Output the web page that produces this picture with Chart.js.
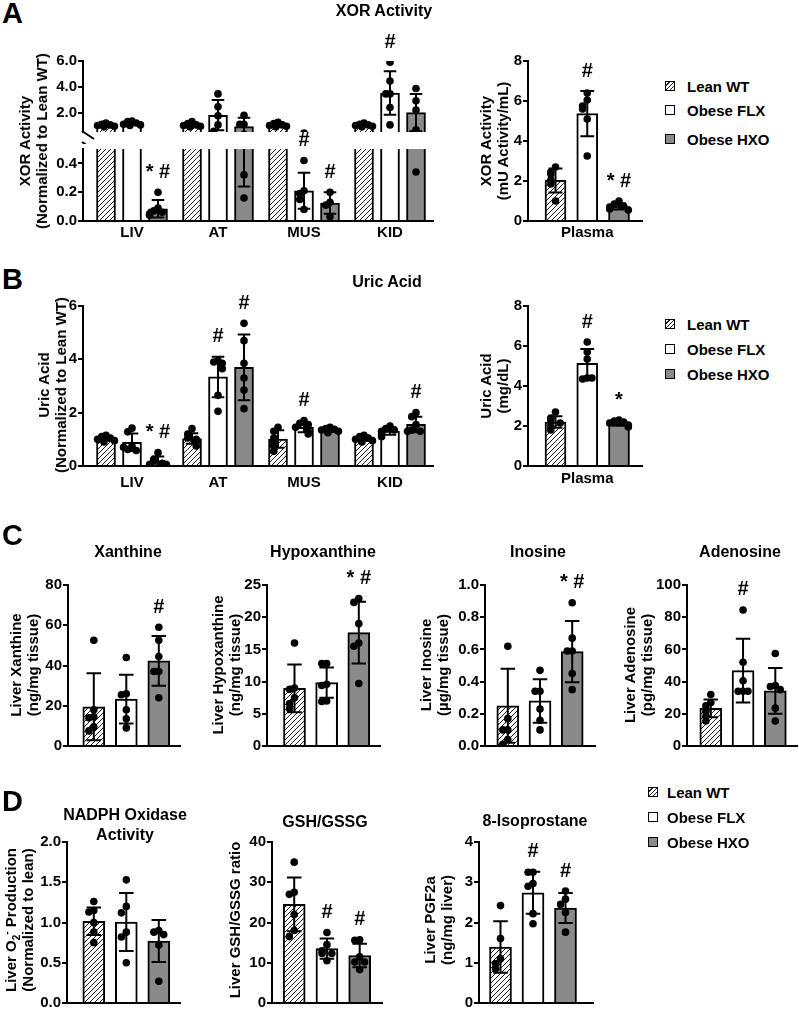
<!DOCTYPE html>
<html>
<head>
<meta charset="utf-8">
<script src="https://cdn.jsdelivr.net/npm/chart.js@4.4.1/dist/chart.umd.min.js"></script>
<style>
  body { margin: 0; background: #fff; width: 799px; height: 1009px; position: relative; overflow: hidden;
         font-family: "Liberation Sans", Arial, sans-serif; font-weight: bold; color: #000; }
  canvas { position: absolute; }
  .t { position: absolute; white-space: nowrap; line-height: 1; font-size: 16px; text-align: center; transform: translate(-50%, -50%); }
  .t2 { position: absolute; white-space: nowrap; line-height: 20px; font-size: 16px; text-align: center; transform: translate(-50%, -50%); }
  .yt { position: absolute; white-space: nowrap; line-height: 17px; font-size: 15px; text-align: center; transform: translate(-50%, -50%) rotate(-90deg); }
  .L { position: absolute; font-size: 29px; line-height: 1; transform: translateY(-50%); }
  .lg { position: absolute; font-size: 15px; line-height: 1; white-space: nowrap; transform: translateY(-50%); }
  .sw { position: absolute; width: 8px; height: 8px; border: 1.5px solid #000; transform: translateY(-50%); }
  sub, sup { font-size: 10px; line-height: 0; }
</style>
</head>
<body>
<script>
// groups and categories
const groups = ['Lean WT', 'Obese FLX', 'Obese HXO'];
const tissues = ['LIV', 'AT', 'MUS', 'KID'];
const plasma = ['Plasma'];

// A: XOR activity in tissues (normalized), rows = Lean, FLX, HXO; cols = tissues
const xorTisMean = [[1.05, 1.05, 1.05, 1.05], [1.18, 1.8, 0.21, 3.52], [0.085, 0.92, 0.125, 2.0]];
const xorTisSd = [[0.1, 0.12, 0.12, 0.12], [0.12, 1.17, 0.125, 1.68], [0.06, 0.68, 0.075, 1.45]];
const xorTisPts = [
  [[1.2, 1.1, 1.05, 1.0, 0.95, 0.9], [1.3, 1.15, 1.05, 1.0, 0.95, 0.9], [1.25, 1.15, 1.05, 1.0, 0.95, 0.9], [1.2, 1.1, 1.05, 1.0, 0.95, 0.9]],
  [[1.35, 1.3, 1.2, 1.1, 1.05, 1.0], [3.45, 2.45, 1.75, 1.05, 0.55], [0.42, 0.21, 0.19, 0.15, 0.08], [5.9, 4.45, 3.45, 3.45, 2.4, 1.05]],
  [[0.2, 0.09, 0.07, 0.06, 0.05, 0.04], [1.8, 1.1, 1.1, 0.32, 0.16], [0.2, 0.13, 0.11, 0.03], [3.87, 2.92, 2.2, 0.67, 0.34]]
];
const xorTisTicksHi = [2, 4, 6];
const xorTisTicksLo = [0, 0.2, 0.4];
const xorTisMarksHi = [[1, 3, '#']];
const xorTisMarksLo = [[2, 0, '* #'], [1, 2, '#'], [2, 2, '#']];

// A: XOR activity in plasma
const xorPlMean = [[2.03], [5.37], [0.72]];
const xorPlSd = [[0.6], [1.13], [0.15]];
const xorPlPts = [[[2.7, 2.45, 2.35, 2.05, 1.85, 1.0]], [[6.4, 6.05, 5.75, 5.6, 5.1, 3.25]], [[1.0, 0.85, 0.75, 0.7, 0.6, 0.55]]];
const xorPlTicks = [0, 2, 4, 6, 8];
const xorPlMarks = [[1, 0, '#'], [2, 0, '* #']];

// B: uric acid in tissues
const uaTisMean = [[1.03, 1.03, 1.01, 1.03], [0.89, 3.34, 1.45, 1.31], [0.19, 3.7, 1.35, 1.56]];
const uaTisSd = [[0.08, 0.2, 0.33, 0.08], [0.33, 0.76, 0.18, 0.14], [0.17, 1.23, 0.07, 0.29]];
const uaTisPts = [
  [[1.15, 1.1, 1.05, 1.0, 0.95, 0.9], [1.4, 1.2, 1.05, 1.0, 0.9, 0.75], [1.45, 1.3, 1.05, 0.9, 0.75, 0.55], [1.15, 1.1, 1.05, 1.0, 0.95, 0.9]],
  [[1.42, 1.28, 0.75, 0.62, 0.58, 0.7], [3.95, 3.9, 3.85, 3.65, 2.65, 2.05], [1.7, 1.6, 1.55, 1.45, 1.3, 1.2], [1.5, 1.4, 1.35, 1.3, 1.2, 1.1]],
  [[0.5, 0.25, 0.2, 0.1, 0.05, 0.05], [5.35, 4.7, 3.85, 3.3, 2.85, 2.15], [1.45, 1.4, 1.38, 1.35, 1.3, 1.25], [2.0, 1.85, 1.55, 1.35, 1.3, 1.3]]
];
const uaTisTicks = [0, 2, 4, 6];
const uaTisMarks = [[2, 0, '* #'], [1, 1, '#'], [2, 1, '#'], [1, 2, '#'], [2, 3, '#']];

// B: uric acid in plasma
const uaPlMean = [[2.2], [5.13], [2.13]];
const uaPlSd = [[0.29], [0.72], [0.12]];
const uaPlPts = [[[2.7, 2.4, 2.3, 2.15, 1.95, 1.8]], [[6.2, 5.7, 5.35, 4.4, 4.35, 4.4]], [[2.3, 2.25, 2.2, 2.15, 2.05, 1.95]]];
const uaPlTicks = [0, 2, 4, 6, 8];
const uaPlMarks = [[1, 0, '#'], [2, 0, '*']];

// C: liver purines
const xanMean = [[19.5], [23.3], [42.3]];
const xanSd = [[16.7], [12.1], [12.3]];
const xanPts = [[[52.5, 18, 14.5, 14, 9.5, 7.5]], [[44, 26, 25.5, 18, 13.5, 9]], [[59, 52.5, 44.5, 37, 37, 24]]];
const xanTicks = [0, 20, 40, 60, 80];
const xanMarks = [[2, 0, '#']];

const hypMean = [[8.96], [9.83], [17.6]];
const hypSd = [[3.7], [2.35], [4.8]];
const hypPts = [[[16, 9, 8.8, 7.5, 6.6, 5.8]], [[12.8, 12.8, 9.6, 9.4, 7.0, 6.9]], [[22.9, 22.3, 19, 16, 15.5, 9.7]]];
const hypTicks = [0, 5, 10, 15, 20, 25];
const hypMarks = [[2, 0, '* #']];

const inoMean = [[0.25], [0.28], [0.586]];
const inoSd = [[0.23], [0.135], [0.19]];
const inoPts = [[[0.62, 0.17, 0.1, 0.1, 0.04, 0.01]], [[0.47, 0.34, 0.34, 0.23, 0.16, 0.1]], [[0.89, 0.67, 0.59, 0.59, 0.45, 0.35]]];
const inoTicks = [0, 0.2, 0.4, 0.6, 0.8, 1.0];
const inoMarks = [[2, 0, '* #']];

const adeMean = [[23.4], [46.8], [34.3]];
const adeSd = [[5.5], [19.8], [14.2]];
const adePts = [[[32, 27, 25, 21.5, 18.5, 15.5]], [[84.5, 52, 40.5, 34, 34, 34]], [[57.5, 37.5, 37, 35, 23.5, 15.5]]];
const adeTicks = [0, 20, 40, 60, 80, 100];
const adeMarks = [[1, 0, '#']];

// D: oxidative stress
const noxMean = [[1.015], [1.005], [0.77]];
const noxSd = [[0.17], [0.36], [0.26]];
const noxPts = [[[1.26, 1.15, 1.13, 1.0, 0.88, 0.75]], [[1.53, 1.2, 1.12, 0.88, 0.82, 0.5]], [[0.9, 0.88, 0.85, 0.72, 0.27]]];
const noxTicks = [0, 0.5, 1.0, 1.5, 2.0];

const gshMean = [[24.5], [13.5], [11.8]];
const gshSd = [[6.7], [2.5], [2.9]];
const gshPts = [[[35, 27.5, 27, 22, 18, 16.5]], [[17.5, 14.5, 13, 12.3, 12.3, 10.5]], [[15.7, 15.6, 11.5, 10.2, 10.2, 8.3]]];
const gshTicks = [0, 10, 20, 30, 40];
const gshMarks = [[1, 0, '#'], [2, 0, '#']];

const isoMean = [[1.39], [2.74], [2.36]];
const isoSd = [[0.64], [0.52], [0.37]];
const isoPts = [[[2.42, 1.6, 1.1, 0.98, 0.85]], [[3.25, 3.25, 2.97, 2.9, 2.22, 1.97]], [[2.78, 2.58, 2.45, 2.25, 1.76]]];
const isoTicks = [0, 1, 2, 3, 4];
const isoMarks = [[1, 0, '#'], [2, 0, '#']];

Chart.defaults.font.family = '"Liberation Sans", Arial, sans-serif';
Chart.defaults.font.size = 15;
Chart.defaults.font.weight = 'bold';
Chart.defaults.color = '#000';

function hatch() {
  const c = document.createElement('canvas');
  c.width = c.height = 5;
  const g = c.getContext('2d');
  g.fillStyle = '#fff';
  g.fillRect(0, 0, 5, 5);
  g.strokeStyle = '#222';
  g.lineWidth = 1;
  g.beginPath();
  g.moveTo(0, 5); g.lineTo(5, 0);
  g.moveTo(-1, 1); g.lineTo(1, -1);
  g.moveTo(4, 6); g.lineTo(6, 4);
  g.stroke();
  return g.createPattern(c, 'repeat');
}
const fills = [hatch(), '#fff', '#8a8a8a'];

function panel(p) {
  const padTop = 45, yW = 52, padR = 4;
  const xH = p.cats ? 30 : 12;
  const left = Math.round(p.axisX - yW);
  const top = Math.round(p.top - padTop);
  const w = Math.round(p.right) + padR - left;
  const h = Math.round(p.bottom) + xH - top;
  const cv = document.createElement('canvas');
  cv.width = w; cv.height = h;
  cv.style.left = left + 'px';
  cv.style.top = top + 'px';
  document.body.appendChild(cv);

  const G = p.gap || 0;
  const x0 = left + yW;
  const xmin = -(p.c0 - x0) / p.pitch;
  const xmax = xmin + (Math.round(p.right) - x0) / p.pitch;

  const extras = {
    id: 'extras',
    afterDatasetsDraw(chart) {
      const { ctx, chartArea: a } = chart;
      const y = chart.scales.y;
      ctx.save();
      ctx.beginPath();
      ctx.rect(a.left, a.top, a.right - a.left, a.bottom - a.top);
      ctx.clip();
      ctx.strokeStyle = '#000';
      ctx.fillStyle = '#000';
      ctx.lineWidth = 2;
      p.mean.forEach((row, d) => {
        const els = chart.getDatasetMeta(d).data;
        row.forEach((m, g) => {
          const el = els[g];
          const x = el.x, cw = el.width * 0.33;
          const s = p.sd[d][g];
          const yt = y.getPixelForValue(m + s), yb = y.getPixelForValue(m - s);
          ctx.beginPath();
          ctx.moveTo(x, yb); ctx.lineTo(x, yt);
          ctx.moveTo(x - cw, yt); ctx.lineTo(x + cw, yt);
          ctx.moveTo(x - cw, yb); ctx.lineTo(x + cw, yb);
          ctx.stroke();
          // scatter dots, spread sideways when they sit at the same height
          const placed = [];
          const step = Math.min(6, el.width / 4.5);
          p.pts[d][g].forEach(v => {
            const py = y.getPixelForValue(v);
            const k = placed.filter(q => Math.abs(q - py) < 7).length;
            placed.push(py);
            const off = [0, -1, 1, -2, 2, -0.5, 0.5][k % 7] * step;
            ctx.beginPath();
            ctx.arc(x + off, py, 3.8, 0, Math.PI * 2);
            ctx.fill();
          });
        });
      });
      ctx.restore();
    },
    afterDraw(chart) {
      const { ctx, chartArea: a } = chart;
      const y = chart.scales.y;
      ctx.save();
      ctx.fillStyle = '#000';
      ctx.strokeStyle = '#000';
      ctx.font = 'bold 20px "Liberation Sans", Arial, sans-serif';
      ctx.textAlign = 'center';
      ctx.textBaseline = 'middle';
      (p.marks || []).forEach(([d, g, txt]) => {
        const el = chart.getDatasetMeta(d).data[g];
        const hi = Math.max(p.mean[d][g] + p.sd[d][g], ...p.pts[d][g]);
        ctx.fillText(txt, el.x, y.getPixelForValue(hi) - 20);
      });
      if (p.brk) {
        // axis break marks between the two segments
        ctx.lineWidth = 2;
        ctx.beginPath();
        ctx.moveTo(a.left - 1, a.bottom - 1); ctx.lineTo(a.left + 11, a.bottom + 7);
        ctx.moveTo(a.left - 1, a.bottom + 10); ctx.lineTo(a.left + 11, a.bottom + 18);
        ctx.stroke();
      }
      ctx.restore();
    }
  };

  return new Chart(cv, {
    type: 'bar',
    data: {
      datasets: p.mean.map((row, d) => ({
        label: groups[d],
        data: row.map((m, g) => ({ x: g * G + d, y: m })),
        backgroundColor: fills[d],
        borderColor: '#000',
        borderWidth: 2,
        grouped: false,
        barThickness: p.barW,
        clip: 0
      }))
    },
    options: {
      responsive: false,
      animation: false,
      devicePixelRatio: 1,
      events: [],
      layout: { padding: { top: padTop, right: padR, left: 0, bottom: 0 } },
      plugins: { legend: { display: false }, tooltip: { enabled: false } },
      scales: {
        x: {
          type: 'linear', min: xmin, max: xmax, offset: false,
          grid: { display: false, drawTicks: false, offset: false },
          border: { display: !p.noAxis, color: '#000', width: 2 },
          ticks: {
            display: !!p.cats, autoSkip: false, maxRotation: 0, padding: p.labPad || 3,
            callback: (v, i) => (p.cats ? p.cats[i] : '')
          },
          afterBuildTicks: s => { if (p.cats) s.ticks = p.cats.map((c, g) => ({ value: g * G + 1 })); },
          afterFit: s => { s.height = xH; }
        },
        y: {
          type: 'linear', min: p.ymin, max: p.ymax,
          afterBuildTicks: s => { s.ticks = p.ticks.map(v => ({ value: v })); },
          ticks: { padding: 1, callback: v => v.toFixed(p.dec || 0) },
          grid: { drawOnChartArea: false, drawTicks: true, tickLength: 5, color: '#000', lineWidth: 2 },
          border: { display: true, color: '#000', width: 2 },
          afterFit: s => { s.width = yW; }
        }
      }
    },
    plugins: [extras]
  });
}

// panel A
panel({ axisX: 83, right: 433, top: 60.7, bottom: 132.2, ymin: 0.5, ymax: 6, ticks: xorTisTicksHi, dec: 1,
        c0: 106, pitch: 26, gap: 86 / 26, barW: 19, mean: xorTisMean, sd: xorTisSd, pts: xorTisPts,
        marks: xorTisMarksHi, noAxis: true, brk: true });
panel({ axisX: 83, right: 433, top: 149, bottom: 220.7, ymin: 0, ymax: 0.5, ticks: xorTisTicksLo, dec: 1,
        c0: 106, pitch: 26, gap: 86 / 26, barW: 19, mean: xorTisMean, sd: xorTisSd, pts: xorTisPts,
        marks: xorTisMarksLo, cats: tissues, labPad: 3 });
panel({ axisX: 528, right: 642, top: 60.7, bottom: 220.7, ymin: 0, ymax: 8, ticks: xorPlTicks,
        c0: 555.5, pitch: 31.75, barW: 21, mean: xorPlMean, sd: xorPlSd, pts: xorPlPts,
        marks: xorPlMarks, cats: plasma, labPad: 3 });
// panel B
panel({ axisX: 83, right: 433, top: 305.7, bottom: 466, ymin: 0, ymax: 6, ticks: uaTisTicks,
        c0: 106, pitch: 26, gap: 86 / 26, barW: 19, mean: uaTisMean, sd: uaTisSd, pts: uaTisPts,
        marks: uaTisMarks, cats: tissues, labPad: 8 });
panel({ axisX: 528, right: 642, top: 305.7, bottom: 466, ymin: 0, ymax: 8, ticks: uaPlTicks,
        c0: 555.5, pitch: 31.75, barW: 21, mean: uaPlMean, sd: uaPlSd, pts: uaPlPts,
        marks: uaPlMarks, cats: plasma, labPad: 4 });
// panel C
panel({ axisX: 68, right: 180, top: 585, bottom: 746, ymin: 0, ymax: 80, ticks: xanTicks,
        c0: 93.8, pitch: 32.5, barW: 22, mean: xanMean, sd: xanSd, pts: xanPts, marks: xanMarks });
panel({ axisX: 267, right: 380, top: 585, bottom: 746, ymin: 0, ymax: 25, ticks: hypTicks,
        c0: 294.5, pitch: 32.15, barW: 22, mean: hypMean, sd: hypSd, pts: hypPts, marks: hypMarks });
panel({ axisX: 485, right: 595, top: 585, bottom: 746, ymin: 0, ymax: 1, ticks: inoTicks, dec: 1,
        c0: 507.8, pitch: 32.2, barW: 22, mean: inoMean, sd: inoSd, pts: inoPts, marks: inoMarks });
panel({ axisX: 687, right: 797, top: 585, bottom: 746, ymin: 0, ymax: 100, ticks: adeTicks,
        c0: 710.8, pitch: 32.25, barW: 22, mean: adeMean, sd: adeSd, pts: adePts, marks: adeMarks });
// panel D
panel({ axisX: 67, right: 180, top: 841.7, bottom: 1002.7, ymin: 0, ymax: 2, ticks: noxTicks, dec: 1,
        c0: 93.8, pitch: 32.5, barW: 22, mean: noxMean, sd: noxSd, pts: noxPts });
panel({ axisX: 272, right: 382, top: 841.7, bottom: 1002.7, ymin: 0, ymax: 40, ticks: gshTicks,
        c0: 294.2, pitch: 32.75, barW: 22, mean: gshMean, sd: gshSd, pts: gshPts, marks: gshMarks });
panel({ axisX: 479, right: 593, top: 841.7, bottom: 1002.7, ymin: 0, ymax: 4, ticks: isoTicks,
        c0: 500.5, pitch: 32.5, barW: 22, mean: isoMean, sd: isoSd, pts: isoPts, marks: isoMarks });

// text
function put(cls, x, y, html) {
  const e = document.createElement('div');
  e.className = cls;
  e.style.left = x + 'px';
  e.style.top = y + 'px';
  e.innerHTML = html;
  document.body.appendChild(e);
}
put('L', 2, 12.5, 'A'); put('L', 2, 279, 'B'); put('L', 2, 535, 'C'); put('L', 2, 801, 'D');
put('t', 384, 11, 'XOR Activity');
put('t', 387, 281.5, 'Uric Acid');
put('t', 128, 552, 'Xanthine'); put('t', 323, 552, 'Hypoxanthine');
put('t', 538, 552, 'Inosine'); put('t', 740, 552, 'Adenosine');
put('t2', 125, 825, 'NADPH Oxidase<br>Activity');
put('t', 325, 822, 'GSH/GSSG'); put('t', 535, 821, '8-Isoprostane');

put('yt', 32.5, 141, 'XOR Activity<br>(Normalized to Lean WT)');
put('yt', 494, 141, 'XOR Activity<br>(mU Activity/mL)');
put('yt', 52, 385, 'Uric Acid<br>(Normalized to Lean WT)');
put('yt', 494, 386, 'Uric Acid<br>(mg/dL)');
put('yt', 24, 665, 'Liver Xanthine<br>(ng/mg tissue)');
put('yt', 226, 665, 'Liver Hypoxanthine<br>(ng/mg tissue)');
put('yt', 434, 665, 'Liver Inosine<br>(\u00b5g/mg tissue)');
put('yt', 637.5, 665, 'Liver Adenosine<br>(pg/mg tissue)');
put('yt', 19, 920, 'Liver O<sub>2</sub><sup>-</sup> Production<br>(Normalized to lean)');
put('yt', 234, 920, 'Liver GSH/GSSG ratio');
put('yt', 437.5, 920, 'Liver PGF2a<br>(ng/mg liver)');

const swatchBg = [
  'repeating-linear-gradient(135deg, #fff 0 2px, #222 2px 3px)', '#fff', '#8a8a8a'
];
function legend(sx, tx, rows) {
  groups.forEach((name, i) => {
    const s = document.createElement('div');
    s.className = 'sw';
    s.style.left = sx + 'px';
    s.style.top = rows[i] + 'px';
    s.style.background = swatchBg[i];
    document.body.appendChild(s);
    put('lg', tx, rows[i], name);
  });
}
legend(665, 687, [85.7, 110, 138.5]);
legend(665, 687, [324.3, 349.3, 374.3]);
legend(648, 667, [791.7, 817.3, 841.7]);
</script>
</body>
</html>
